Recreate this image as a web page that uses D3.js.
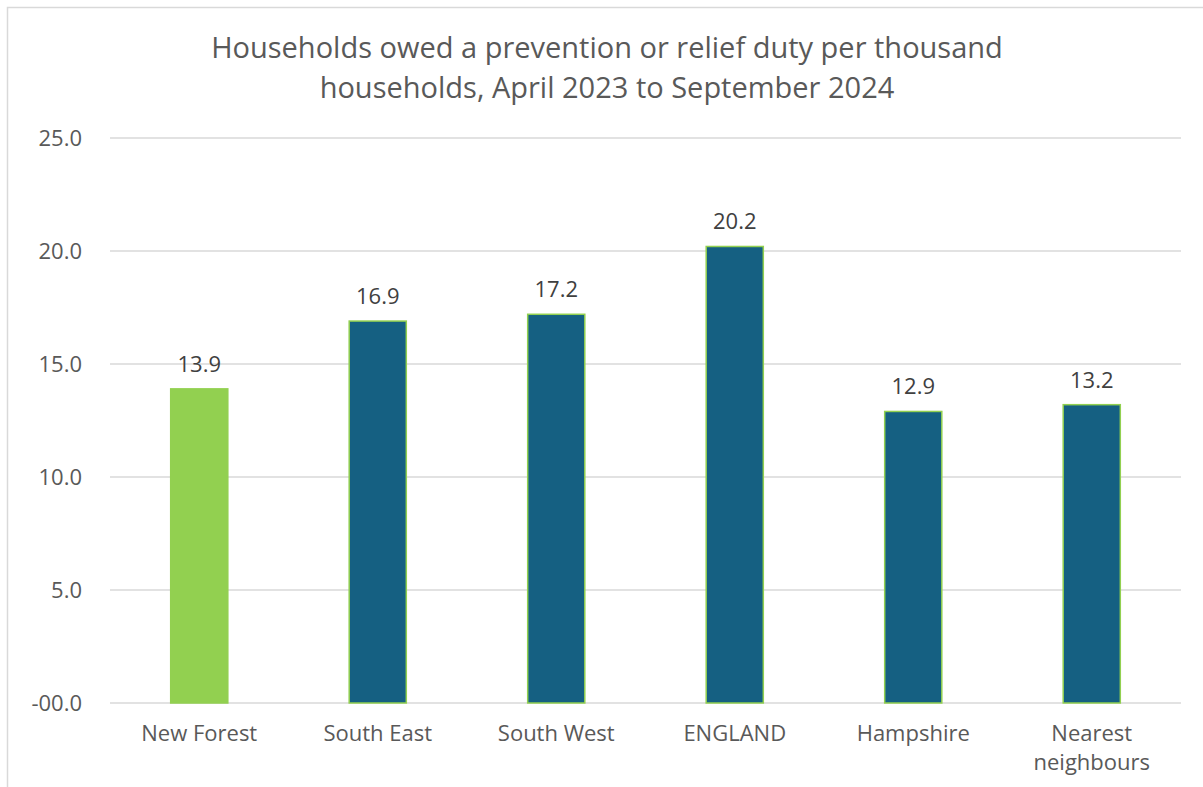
<!DOCTYPE html>
<html><head><meta charset="utf-8">
<script src="https://cdn.jsdelivr.net/npm/d3@7"></script>
<style>body{margin:0;background:#fff;} svg{display:block;font-family:"Open Sans",sans-serif;}</style>
</head><body>
<script>
const categories = ["New Forest","South East","South West","ENGLAND","Hampshire","Nearest neighbours"];
const values = [13.9, 16.9, 17.2, 20.2, 12.9, 13.2];
const barColors = ["#92D050","#156082","#156082","#156082","#156082","#156082"];
const tickValues = [0,5,10,15,20,25];
const tickLabels = ["-00.0","5.0","10.0","15.0","20.0","25.0"];
const titleLines = ["Households owed a prevention or relief duty per thousand","households, April 2023 to September 2024"];

const W=1203,H=787;
const svg=d3.select("body").append("svg").attr("width",W).attr("height",H);
svg.append("rect").attr("x",7.5).attr("y",7.5).attr("width",W+10).attr("height",H+10).attr("fill","#fff").attr("stroke","#d9d9d9").attr("stroke-width",1.5);

const x=d3.scaleBand().domain(categories).range([110,1181]).paddingInner(0.68).paddingOuter(0.34);
const y=d3.scaleLinear().domain([0,25]).range([703,138]);

// gridlines
svg.append("g").selectAll("line").data(tickValues).join("line")
 .attr("x1",110).attr("x2",1181).attr("y1",d=>y(d)).attr("y2",d=>y(d))
 .attr("stroke","#d9d9d9").attr("stroke-width",1.5);

// y labels
svg.append("g").selectAll("text").data(tickValues).join("text")
 .attr("x",82).attr("y",d=>y(d)).attr("dy","0.35em").attr("text-anchor","end")
 .attr("font-size",22).attr("fill","#595959").text((d,i)=>tickLabels[i]);

// bars
svg.append("g").selectAll("rect").data(values).join("rect")
 .attr("x",(d,i)=>x(categories[i])).attr("width",x.bandwidth())
 .attr("y",d=>y(d)).attr("height",d=>y(0)-y(d))
 .attr("fill",(d,i)=>barColors[i]).attr("stroke","#92D050").attr("stroke-width",1.5);

// data labels
svg.append("g").selectAll("text").data(values).join("text")
 .attr("x",(d,i)=>x(categories[i])+x.bandwidth()/2).attr("y",d=>y(d)-17)
 .attr("text-anchor","middle").attr("font-size",22).attr("fill","#404040")
 .text(d=>d.toFixed(1));

// category labels
const cl=svg.append("g").selectAll("text").data(categories).join("text")
 .attr("x",d=>x(d)+x.bandwidth()/2).attr("y",741)
 .attr("text-anchor","middle").attr("font-size",22).attr("fill","#595959");
cl.each(function(d){
  const words = d==="Nearest neighbours" ? ["Nearest","neighbours"] : [d];
  const t=d3.select(this);
  words.forEach((w,j)=>t.append("tspan").attr("x",x(d)+x.bandwidth()/2).attr("dy",j?29:0).text(w));
});

// title
svg.append("g").selectAll("text").data(titleLines).join("text")
 .attr("x",607).attr("y",(d,i)=>58+i*40).attr("text-anchor","middle")
 .attr("font-size",29).attr("fill","#595959").text(d=>d);
</script>
</body></html>
